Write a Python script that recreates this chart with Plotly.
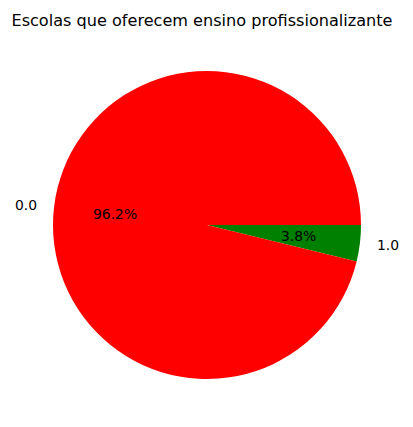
import math
import plotly.graph_objects as go

# data
labels = ['0.0', '1.0']
values = [96.2, 3.8]
colors = ['red', 'green']
title = 'Escolas que oferecem ensino profissionalizante'

# page body has an 8px margin, so draw on a slightly smaller canvas
OFF = 8
W, H = 413 - OFF, 427 - 2 * OFF
cx, cy, r = 207 - OFF, 225 - OFF, 154   # pie centre / radius in px
font = 'DejaVu Sans'


def to_paper(px, py):
    return px / W, (H - py) / H


# matplotlib goes counterclockwise from 3 o'clock; same thing as
# clockwise from 3 o'clock with the slice order reversed
fig = go.Figure()
fig.add_trace(go.Pie(labels=labels[::-1], values=values[::-1], sort=False,
                     direction='clockwise', rotation=90,
                     marker=dict(colors=colors[::-1], line=dict(width=0)),
                     textinfo='none', showlegend=False,
                     domain=dict(x=[(cx - r) / W, (cx + r) / W],
                                 y=[(H - cy - r) / H, (H - cy + r) / H])))

# label and pct text placed the way matplotlib does it
total = sum(values)
start = 0.0
annotations = []
for lab, v in zip(labels, values):
    frac = v / total
    mid = math.radians((start + frac / 2) * 360)
    start += frac
    c, s = math.cos(mid), math.sin(mid)
    lx, ly = to_paper(cx + 1.1 * r * c, cy - 1.1 * r * s)
    annotations.append(dict(x=lx, y=ly, xref='paper', yref='paper', text=lab,
                            showarrow=False, xanchor='left' if c > 0 else 'right',
                            yanchor='middle', font=dict(size=13.9, color='black', family=font)))
    px_, py_ = to_paper(cx + 0.6 * r * c, cy - 0.6 * r * s)
    annotations.append(dict(x=px_, y=py_, xref='paper', yref='paper',
                            text=f'{frac * 100:.1f}%', showarrow=False,
                            xanchor='center', yanchor='middle',
                            font=dict(size=13.9, color='black', family=font)))

fig.update_layout(width=W, height=H, margin=dict(l=0, r=0, t=0, b=0),
                  paper_bgcolor='white', plot_bgcolor='white',
                  annotations=annotations,
                  title=dict(text=title, x=(202 - OFF) / W, xanchor='center',
                             y=1 - (20 - OFF) / H, yanchor='middle',
                             font=dict(size=16.1, color='black', family=font)))

fig.write_html('out.html')
